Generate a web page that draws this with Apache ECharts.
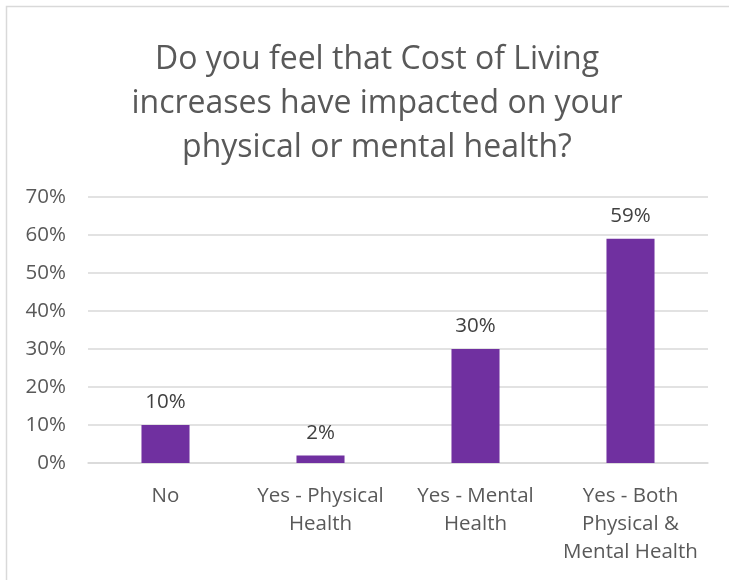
<!DOCTYPE html>
<html>
<head>
<meta charset="utf-8">
<script src="https://cdn.jsdelivr.net/npm/echarts@6/dist/echarts.min.js"></script>
<style>
  html, body { margin: 0; padding: 0; background: #fff; }
  #chart { width: 729px; height: 580px; }
</style>
</head>
<body>
<div id="chart"></div>
<script>
// Survey answers and their shares (percent)
const categories = ['No', 'Yes - Physical\nHealth', 'Yes - Mental\nHealth', 'Yes - Both\nPhysical &\nMental Health'];
const shares = [10, 2, 30, 59];
const yTicks = { min: 0, max: 70, step: 10 };

const font = '"Open Sans", "Noto Sans", sans-serif';
const chart = echarts.init(document.getElementById('chart'), null, { renderer: 'canvas' });

chart.setOption({
  backgroundColor: '#ffffff',
  animation: false,
  graphic: [{
    type: 'rect',
    shape: { x: 6.5, y: 6.5, width: 740, height: 600 },
    style: { fill: 'none', stroke: '#d9d9d9', lineWidth: 1.5 },
    silent: true
  }],
  title: {
    text: 'Do you feel that Cost of Living\nincreases have impacted on your\nphysical or mental health?',
    left: 372,
    textAlign: 'center',
    top: 33,
    textStyle: {
      fontFamily: font,
      fontWeight: 'normal',
      fontSize: 32,
      lineHeight: 44,
      color: '#595959'
    }
  },
  grid: { left: 88, right: 21, top: 197, bottom: 117, containLabel: false },
  xAxis: {
    type: 'category',
    data: categories,
    axisLine: { show: true, lineStyle: { color: '#d9d9d9', width: 1.5 } },
    axisTick: { show: false },
    axisLabel: {
      interval: 0,
      margin: 19,
      fontFamily: font,
      fontSize: 20.5,
      lineHeight: 28,
      color: '#595959',
      verticalAlign: 'top'
    }
  },
  yAxis: {
    type: 'value',
    min: yTicks.min,
    max: yTicks.max,
    interval: yTicks.step,
    axisLine: { show: false },
    axisTick: { show: false },
    splitLine: { lineStyle: { color: '#d9d9d9', width: 1.5 } },
    axisLabel: {
      margin: 22,
      fontFamily: font,
      fontSize: 20.5,
      color: '#595959',
      formatter: v => v + '%'
    }
  },
  series: [{
    type: 'bar',
    data: shares,
    barWidth: '31%',
    itemStyle: { color: '#7030a0' },
    label: {
      show: true,
      position: 'top',
      distance: 12,
      fontFamily: font,
      fontSize: 20.5,
      color: '#404040',
      formatter: p => p.value + '%'
    }
  }]
});
</script>
</body>
</html>
